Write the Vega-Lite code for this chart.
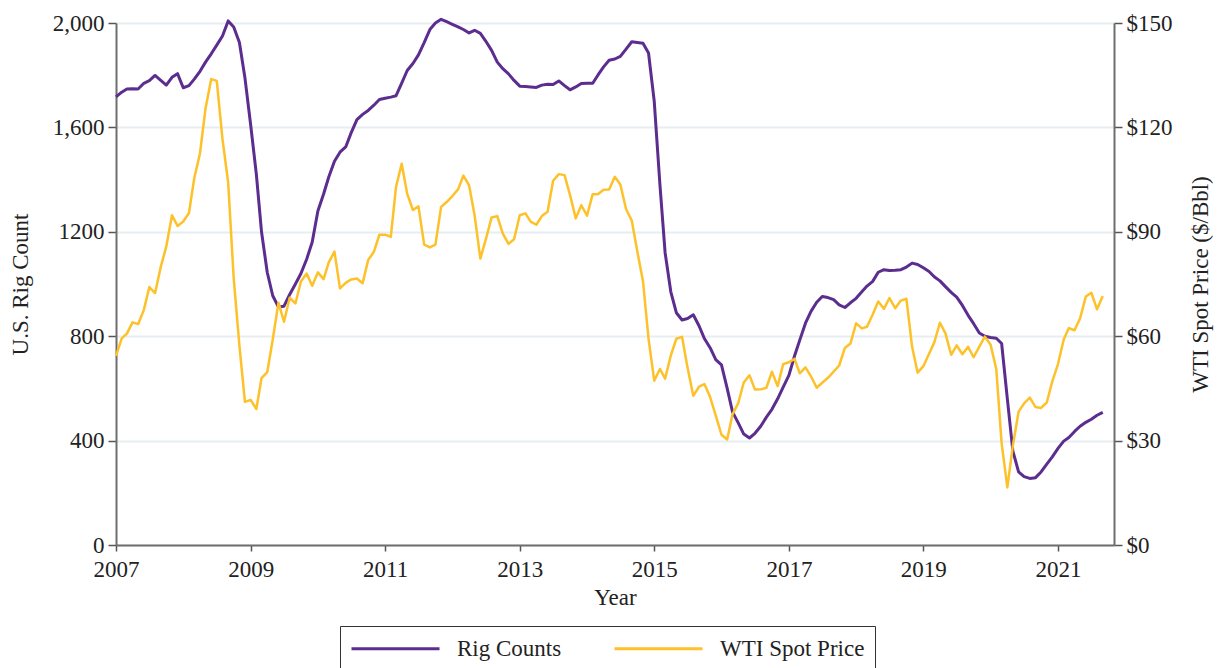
{
"$schema": "https://vega.github.io/schema/vega-lite/v6.json",
"width": 998,
"height": 522,
"autosize": {"type": "none"},
"padding": {"left": 116, "top": 23, "right": 106, "bottom": 123},
"background": "white",
"config": {
  "font": "Liberation Serif",
  "view": {"stroke": null},
  "axis": {
    "labelFont": "Liberation Serif",
    "titleFont": "Liberation Serif",
    "labelFontSize": 23,
    "titleFontSize": 23,
    "titleFontWeight": "normal",
    "labelColor": "#222",
    "titleColor": "#222",
    "domainColor": "#6e6e6e",
    "domainWidth": 2,
    "tickColor": "#555",
    "tickWidth": 1.5,
    "tickSize": 8,
    "labelPadding": 4
  },
  "legend": {
    "labelFont": "Liberation Serif",
    "labelFontSize": 23,
    "labelColor": "#222"
  }
},
"data": {"values": [
{"d":"2007-01-01","rig":1717,"wti":54.35},{"d":"2007-02-01","rig":1735,"wti":59.39},{"d":"2007-03-01","rig":1747,"wti":60.74},{"d":"2007-04-01","rig":1748,"wti":63.98},{"d":"2007-05-01","rig":1747,"wti":63.46},{"d":"2007-06-01","rig":1769,"wti":67.49},{"d":"2007-07-01","rig":1779,"wti":74.12},{"d":"2007-08-01","rig":1799,"wti":72.36},{"d":"2007-09-01","rig":1780,"wti":79.92},{"d":"2007-10-01","rig":1762,"wti":85.80},{"d":"2007-11-01","rig":1792,"wti":94.77},{"d":"2007-12-01","rig":1806,"wti":91.69},
{"d":"2008-01-01","rig":1752,"wti":92.97},{"d":"2008-02-01","rig":1760,"wti":95.39},{"d":"2008-03-01","rig":1785,"wti":105.45},{"d":"2008-04-01","rig":1815,"wti":112.58},{"d":"2008-05-01","rig":1850,"wti":125.40},{"d":"2008-06-01","rig":1882,"wti":133.88},{"d":"2008-07-01","rig":1915,"wti":133.37},{"d":"2008-08-01","rig":1950,"wti":116.67},{"d":"2008-09-01","rig":2008,"wti":104.11},{"d":"2008-10-01","rig":1985,"wti":76.61},{"d":"2008-11-01","rig":1925,"wti":57.31},{"d":"2008-12-01","rig":1790,"wti":41.12},
{"d":"2009-01-01","rig":1610,"wti":41.71},{"d":"2009-02-01","rig":1420,"wti":39.09},{"d":"2009-03-01","rig":1200,"wti":47.94},{"d":"2009-04-01","rig":1045,"wti":49.65},{"d":"2009-05-01","rig":955,"wti":59.03},{"d":"2009-06-01","rig":912,"wti":69.64},{"d":"2009-07-01","rig":915,"wti":64.15},{"d":"2009-08-01","rig":960,"wti":71.05},{"d":"2009-09-01","rig":1000,"wti":69.41},{"d":"2009-10-01","rig":1040,"wti":75.72},{"d":"2009-11-01","rig":1095,"wti":77.99},{"d":"2009-12-01","rig":1160,"wti":74.47},
{"d":"2010-01-01","rig":1280,"wti":78.33},{"d":"2010-02-01","rig":1345,"wti":76.39},{"d":"2010-03-01","rig":1410,"wti":81.20},{"d":"2010-04-01","rig":1470,"wti":84.29},{"d":"2010-05-01","rig":1505,"wti":73.74},{"d":"2010-06-01","rig":1525,"wti":75.34},{"d":"2010-07-01","rig":1580,"wti":76.32},{"d":"2010-08-01","rig":1630,"wti":76.60},{"d":"2010-09-01","rig":1650,"wti":75.24},{"d":"2010-10-01","rig":1665,"wti":81.89},{"d":"2010-11-01","rig":1685,"wti":84.25},{"d":"2010-12-01","rig":1707,"wti":89.15},
{"d":"2011-01-01","rig":1712,"wti":89.17},{"d":"2011-02-01","rig":1716,"wti":88.58},{"d":"2011-03-01","rig":1721,"wti":102.86},{"d":"2011-04-01","rig":1770,"wti":109.53},{"d":"2011-05-01","rig":1818,"wti":100.90},{"d":"2011-06-01","rig":1845,"wti":96.26},{"d":"2011-07-01","rig":1878,"wti":97.30},{"d":"2011-08-01","rig":1925,"wti":86.33},{"d":"2011-09-01","rig":1975,"wti":85.52},{"d":"2011-10-01","rig":2000,"wti":86.32},{"d":"2011-11-01","rig":2014,"wti":97.16},{"d":"2011-12-01","rig":2005,"wti":98.56},
{"d":"2012-01-01","rig":1995,"wti":100.27},{"d":"2012-02-01","rig":1985,"wti":102.20},{"d":"2012-03-01","rig":1975,"wti":106.16},{"d":"2012-04-01","rig":1962,"wti":103.32},{"d":"2012-05-01","rig":1972,"wti":94.66},{"d":"2012-06-01","rig":1960,"wti":82.30},{"d":"2012-07-01","rig":1930,"wti":87.90},{"d":"2012-08-01","rig":1895,"wti":94.13},{"d":"2012-09-01","rig":1850,"wti":94.51},{"d":"2012-10-01","rig":1825,"wti":89.49},{"d":"2012-11-01","rig":1805,"wti":86.53},{"d":"2012-12-01","rig":1780,"wti":87.86},
{"d":"2013-01-01","rig":1758,"wti":94.76},{"d":"2013-02-01","rig":1757,"wti":95.31},{"d":"2013-03-01","rig":1755,"wti":92.94},{"d":"2013-04-01","rig":1753,"wti":92.02},{"d":"2013-05-01","rig":1762,"wti":94.51},{"d":"2013-06-01","rig":1765,"wti":95.77},{"d":"2013-07-01","rig":1764,"wti":104.67},{"d":"2013-08-01","rig":1778,"wti":106.57},{"d":"2013-09-01","rig":1760,"wti":106.29},{"d":"2013-10-01","rig":1744,"wti":100.54},{"d":"2013-11-01","rig":1755,"wti":93.86},{"d":"2013-12-01","rig":1768,"wti":97.63},
{"d":"2014-01-01","rig":1769,"wti":94.62},{"d":"2014-02-01","rig":1769,"wti":100.82},{"d":"2014-03-01","rig":1800,"wti":100.80},{"d":"2014-04-01","rig":1832,"wti":102.07},{"d":"2014-05-01","rig":1857,"wti":102.18},{"d":"2014-06-01","rig":1862,"wti":105.79},{"d":"2014-07-01","rig":1872,"wti":103.59},{"d":"2014-08-01","rig":1900,"wti":96.54},{"d":"2014-09-01","rig":1928,"wti":93.21},{"d":"2014-10-01","rig":1925,"wti":84.40},{"d":"2014-11-01","rig":1922,"wti":75.79},{"d":"2014-12-01","rig":1885,"wti":59.29},
{"d":"2015-01-01","rig":1700,"wti":47.22},{"d":"2015-02-01","rig":1380,"wti":50.58},{"d":"2015-03-01","rig":1120,"wti":47.82},{"d":"2015-04-01","rig":970,"wti":54.45},{"d":"2015-05-01","rig":890,"wti":59.27},{"d":"2015-06-01","rig":862,"wti":59.82},{"d":"2015-07-01","rig":868,"wti":50.90},{"d":"2015-08-01","rig":882,"wti":42.87},{"d":"2015-09-01","rig":840,"wti":45.48},{"d":"2015-10-01","rig":790,"wti":46.22},{"d":"2015-11-01","rig":755,"wti":42.44},{"d":"2015-12-01","rig":710,"wti":37.19},
{"d":"2016-01-01","rig":690,"wti":31.68},{"d":"2016-02-01","rig":600,"wti":30.32},{"d":"2016-03-01","rig":510,"wti":37.55},{"d":"2016-04-01","rig":468,"wti":40.75},{"d":"2016-05-01","rig":425,"wti":46.71},{"d":"2016-06-01","rig":410,"wti":48.76},{"d":"2016-07-01","rig":428,"wti":44.65},{"d":"2016-08-01","rig":455,"wti":44.72},{"d":"2016-09-01","rig":490,"wti":45.18},{"d":"2016-10-01","rig":520,"wti":49.78},{"d":"2016-11-01","rig":560,"wti":45.66},{"d":"2016-12-01","rig":605,"wti":51.97},
{"d":"2017-01-01","rig":650,"wti":52.50},{"d":"2017-02-01","rig":725,"wti":53.47},{"d":"2017-03-01","rig":785,"wti":49.33},{"d":"2017-04-01","rig":850,"wti":51.06},{"d":"2017-05-01","rig":895,"wti":48.48},{"d":"2017-06-01","rig":930,"wti":45.18},{"d":"2017-07-01","rig":952,"wti":46.63},{"d":"2017-08-01","rig":948,"wti":48.04},{"d":"2017-09-01","rig":940,"wti":49.82},{"d":"2017-10-01","rig":920,"wti":51.58},{"d":"2017-11-01","rig":910,"wti":56.64},{"d":"2017-12-01","rig":928,"wti":57.88},
{"d":"2018-01-01","rig":945,"wti":63.70},{"d":"2018-02-01","rig":970,"wti":62.23},{"d":"2018-03-01","rig":992,"wti":62.73},{"d":"2018-04-01","rig":1010,"wti":66.25},{"d":"2018-05-01","rig":1045,"wti":69.98},{"d":"2018-06-01","rig":1055,"wti":67.87},{"d":"2018-07-01","rig":1052,"wti":70.98},{"d":"2018-08-01","rig":1053,"wti":68.06},{"d":"2018-09-01","rig":1055,"wti":70.23},{"d":"2018-10-01","rig":1065,"wti":70.75},{"d":"2018-11-01","rig":1080,"wti":56.96},{"d":"2018-12-01","rig":1075,"wti":49.52},
{"d":"2019-01-01","rig":1062,"wti":51.38},{"d":"2019-02-01","rig":1048,"wti":54.95},{"d":"2019-03-01","rig":1028,"wti":58.15},{"d":"2019-04-01","rig":1012,"wti":63.86},{"d":"2019-05-01","rig":990,"wti":60.83},{"d":"2019-06-01","rig":968,"wti":54.66},{"d":"2019-07-01","rig":950,"wti":57.35},{"d":"2019-08-01","rig":918,"wti":54.81},{"d":"2019-09-01","rig":880,"wti":56.95},{"d":"2019-10-01","rig":848,"wti":53.96},{"d":"2019-11-01","rig":812,"wti":57.03},{"d":"2019-12-01","rig":800,"wti":59.88},
{"d":"2020-01-01","rig":795,"wti":57.52},{"d":"2020-02-01","rig":792,"wti":50.54},{"d":"2020-03-01","rig":772,"wti":29.21},{"d":"2020-04-01","rig":560,"wti":16.55},{"d":"2020-05-01","rig":360,"wti":28.56},{"d":"2020-06-01","rig":280,"wti":38.31},{"d":"2020-07-01","rig":262,"wti":40.71},{"d":"2020-08-01","rig":255,"wti":42.34},{"d":"2020-09-01","rig":258,"wti":39.63},{"d":"2020-10-01","rig":280,"wti":39.40},{"d":"2020-11-01","rig":310,"wti":40.94},{"d":"2020-12-01","rig":338,"wti":47.02},
{"d":"2021-01-01","rig":370,"wti":52.00},{"d":"2021-02-01","rig":398,"wti":59.04},{"d":"2021-03-01","rig":412,"wti":62.33},{"d":"2021-04-01","rig":435,"wti":61.72},{"d":"2021-05-01","rig":455,"wti":65.17},{"d":"2021-06-01","rig":470,"wti":71.38},{"d":"2021-07-01","rig":482,"wti":72.49},{"d":"2021-08-01","rig":497,"wti":67.73},{"d":"2021-09-01","rig":508,"wti":71.54}
]},
"encoding": {
  "x": {
    "field": "d", "type": "temporal",
    "scale": {"type": "utc", "domain": [{"year": 2007, "month": 1, "date": 1, "utc": true}, {"year": 2021, "month": 11, "date": 1, "utc": true}]},
    "axis": {
      "title": "Year",
      "format": "%Y",
      "values": [{"year": 2007, "month": 1, "date": 1, "utc": true}, {"year": 2009, "month": 1, "date": 1, "utc": true}, {"year": 2011, "month": 1, "date": 1, "utc": true}, {"year": 2013, "month": 1, "date": 1, "utc": true}, {"year": 2015, "month": 1, "date": 1, "utc": true}, {"year": 2017, "month": 1, "date": 1, "utc": true}, {"year": 2019, "month": 1, "date": 1, "utc": true}, {"year": 2021, "month": 1, "date": 1, "utc": true}],
      "grid": false,
      "tickSize": 6,
      "labelPadding": 7,
      "titlePadding": 5,
      "labelFlush": false
    }
  }
},
"layer": [
  {
    "mark": {"type": "line", "strokeWidth": 3, "strokeJoin": "round"},
    "encoding": {
      "y": {
        "field": "rig", "type": "quantitative",
        "scale": {"domain": [0, 2000], "nice": false},
        "axis": {
          "title": "U.S. Rig Count",
          "values": [0, 400, 800, 1200, 1600, 2000],
          "labelExpr": "datum.value >= 1600 ? format(datum.value, ',') : '' + datum.value",
          "grid": true,
          "gridColor": "#e7eef1",
          "gridWidth": 2,
          "titlePadding": 20
        }
      },
      "color": {
        "datum": "Rig Counts", "type": "nominal",
        "scale": {"domain": ["Rig Counts", "WTI Spot Price"], "range": ["#5b2d8f", "#fdc12a"]},
        "legend": {
          "title": null,
          "orient": "none",
          "legendX": 224,
          "legendY": 603,
          "direction": "horizontal",
          "symbolType": "M-1,0H7",
          "symbolSize": 484,
          "symbolStrokeWidth": 3,
          "labelOffset": 82,
          "columnPadding": 46,
          "padding": 10,
          "strokeColor": "#333",
          "fillColor": "white"
        }
      }
    }
  },
  {
    "mark": {"type": "line", "strokeWidth": 2.5, "strokeJoin": "round"},
    "encoding": {
      "y": {
        "field": "wti", "type": "quantitative",
        "scale": {"domain": [0, 150], "nice": false},
        "axis": {
          "orient": "right",
          "title": "WTI Spot Price ($/Bbl)",
          "values": [0, 30, 60, 90, 120, 150],
          "labelExpr": "'$' + datum.value",
          "grid": false,
          "titleAngle": 270,
          "titlePadding": 40
        }
      },
      "color": {"datum": "WTI Spot Price", "type": "nominal"}
    }
  }
],
"resolve": {"scale": {"y": "independent"}}
}
